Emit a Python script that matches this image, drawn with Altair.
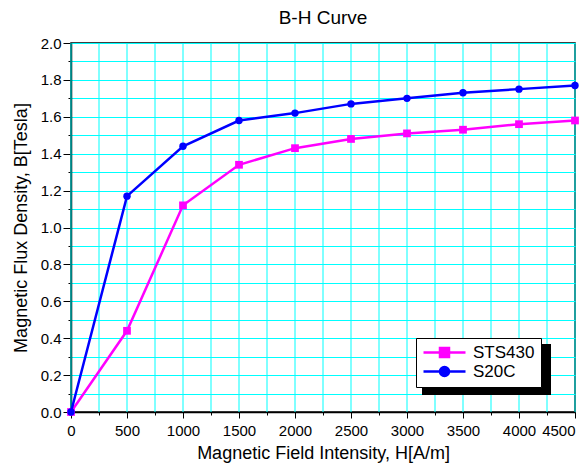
import altair as alt
import pandas as pd

H = [0, 500, 1000, 1500, 2000, 2500, 3000, 3500, 4000, 4500]
sts430 = [0.0, 0.44, 1.12, 1.34, 1.43, 1.48, 1.51, 1.53, 1.56, 1.58]
s20c = [0.0, 1.17, 1.44, 1.58, 1.62, 1.67, 1.70, 1.73, 1.75, 1.77]
series_names = ["STS430", "S20C"]
series_colors = ["#FF00FF", "#0000FF"]
x_ticks = list(range(0, 4501, 250))
y_ticks = [round(i * 0.1, 1) for i in range(0, 21)]

rows = []
for h, v in zip(H, sts430):
    rows.append({"H": h, "B": v, "series": "STS430"})
for h, v in zip(H, s20c):
    rows.append({"H": h, "B": v, "series": "S20C"})
df = pd.DataFrame(rows)

FONT = "Liberation Sans"

x_axis = alt.Axis(
    values=x_ticks,
    format="d",
    labelExpr="datum.value % 500 === 0 ? datum.label : ''",
    labelOverlap=False,
    labelAlign={"condition": {"test": "datum.value === 4500", "value": "right"}, "value": "center"},
    tickSize={"condition": {"test": "datum.value % 500 === 0", "value": 6}, "value": 3},
    grid=False,
    title="Magnetic Field Intensity, H[A/m]",
    labelPadding=5,
    titlePadding=6,
)
x_enc = alt.X("H:Q", scale=alt.Scale(domain=[0, 4500], nice=False, zero=True), axis=x_axis)
y_enc = alt.Y(
    "B:Q",
    scale=alt.Scale(domain=[0, 2.0], nice=False),
    axis=alt.Axis(
        values=y_ticks,
        format=".1f",
        labelExpr="round(datum.value * 10) % 2 === 0 ? datum.label : ''",
        labelOverlap=False,
        tickSize={"condition": {"test": "round(datum.value * 10) % 2 === 0", "value": 8}, "value": 3},
        grid=True,
        title="Magnetic Flux Density, B[Tesla]",
        labelPadding=2,
        titlePadding=10,
    ),
)

base = alt.Chart(df)

vgrid = alt.Chart(pd.DataFrame({"H": x_ticks})).mark_rule(color="#00FFFF", strokeWidth=1).encode(x=x_enc)

shadow = alt.Chart(pd.DataFrame({"a": [0]})).mark_rect(color="black").encode(
    x=alt.value(351), x2=alt.value(480), y=alt.value(301), y2=alt.value(352)
)

layers = [vgrid, shadow]
for name, col, shp in zip(series_names, series_colors, ["square", "circle"]):
    sub = base.transform_filter(alt.datum.series == name)
    layers.append(sub.mark_line(color=col, strokeWidth=2.5).encode(x=x_enc, y=y_enc))
    layers.append(
        sub.mark_point(color=col, filled=True, opacity=1, shape=shp, size=60 if shp == "square" else 55).encode(
            x=x_enc, y=y_enc
        )
    )

r = 0.9
L = 4.2
paths = [
    f"M-{L},0H{L}M-{r},-{r}H{r}V{r}H-{r}Z",
    f"M-{L},0H{L}M-{r},0A{r},{r},0,1,0,{r},0A{r},{r},0,1,0,-{r},0Z",
]
legend = alt.Legend(
    orient="none",
    legendX=345,
    legendY=295,
    title=None,
    strokeColor="black",
    fillColor="white",
    padding=6,
    labelFontSize=17,
    labelFont=FONT,
    labelColor="black",
    symbolSize=100,
    symbolStrokeWidth=2.5,
    symbolOffset=14,
    rowPadding=0,
    labelOffset=20,
)
leg_layer = base.transform_filter("false").mark_point(filled=True, opacity=1).encode(
    x=x_enc,
    y=y_enc,
    fill=alt.Fill("series:N", scale=alt.Scale(domain=series_names, range=series_colors), legend=legend),
    stroke=alt.Stroke("series:N", scale=alt.Scale(domain=series_names, range=series_colors), legend=legend),
    shape=alt.Shape("series:N", scale=alt.Scale(domain=series_names, range=paths), legend=legend),
)
layers.append(leg_layer)

chart = (
    alt.layer(*layers)
    .properties(
        width=504,
        height=369,
        background="white",
        title=alt.TitleParams("B-H Curve", fontSize=19, font=FONT, fontWeight="normal", color="black", offset=8),
        autosize=alt.AutoSizeParams(type="none"),
        padding={"left": 63, "top": 35, "right": 5, "bottom": 51},
    )
    .configure_view(stroke="black", strokeWidth=1.5)
    .configure_axis(
        gridColor="#00FFFF",
        gridWidth=1,
        gridOpacity=1,
        domainColor="black",
        domainWidth=1.5,
        tickColor="black",
        tickWidth=1,
        labelFont=FONT,
        labelFontSize=15,
        labelColor="black",
        titleFont=FONT,
        titleFontSize=18,
        titleFontWeight="normal",
        titleColor="black",
    )
)

chart.save("out.html", embed_options={"renderer": "svg", "actions": False})
